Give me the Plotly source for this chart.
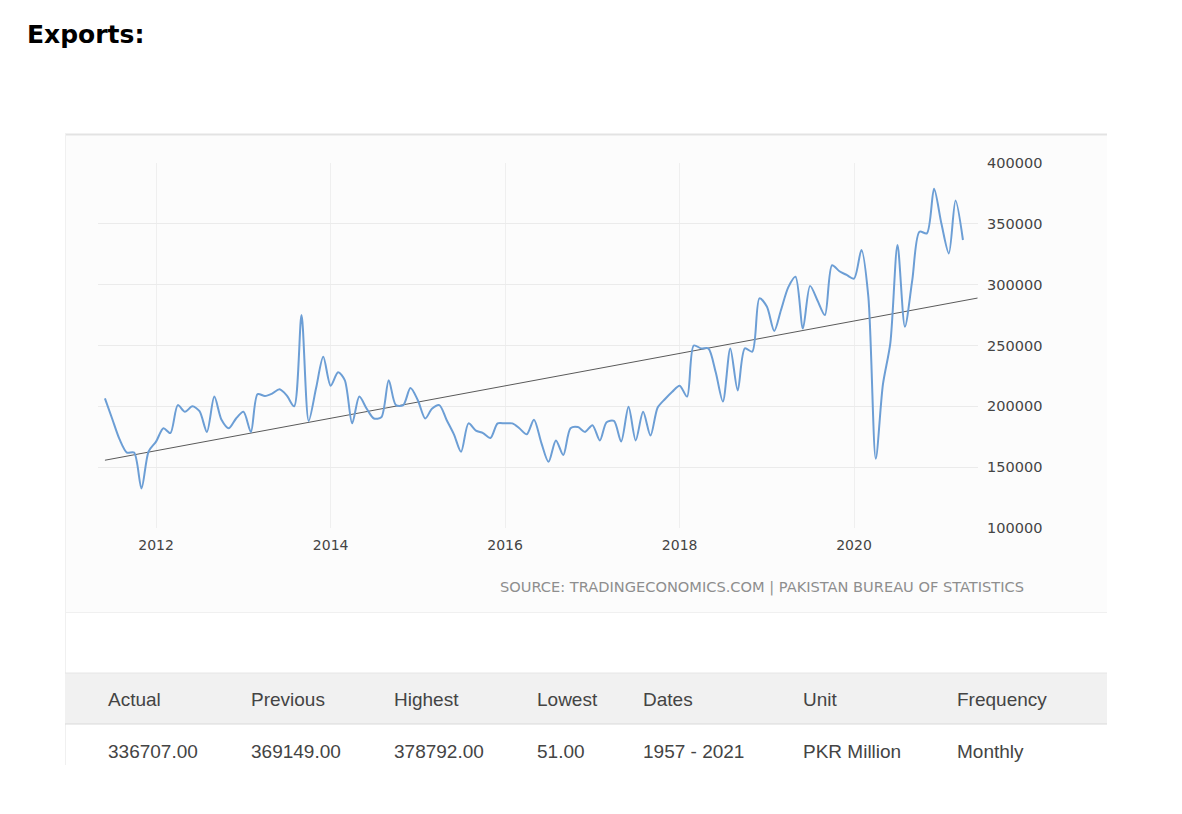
import pandas as pd
import plotly.graph_objects as go

# ---------------- data ----------------
start_month = "2011-06-01"
exports = [
    206500, 190000, 173000, 162000, 162000, 132500, 163000,            # Jun-Dec 2011
    171000, 182000, 178000, 201000, 195500, 200000, 196000, 179000, 208000, 189000, 182000, 190000,  # 2012
    195500, 179000, 210000, 208500, 210500, 214000, 209000, 200000, 275000, 188000, 215000, 240700,  # 2013
    217000, 228000, 221500, 186000, 208000, 198000, 190000, 191000, 221500, 201000, 201000, 215000,  # 2014
    205000, 190000, 198000, 201000, 189000, 177000, 162600, 186000, 180000, 178000, 174000, 186000,  # 2015
    186000, 186000, 182000, 177000, 189000, 170000, 154400, 172000, 160000, 182000, 183000, 179000,  # 2016
    184500, 172000, 187000, 188000, 171000, 199600, 172000, 195500, 176000, 199000, 206000, 212000,  # 2017
    217000, 208000, 250000, 247600, 247600, 228000, 204000, 247600, 213000, 247600, 245000, 288700,  # 2018
    282000, 262000, 279000, 298000, 306500, 264000, 299000, 287000, 275000, 316000, 311000, 308000,  # 2019
    305000, 328500, 290000, 157000, 218000, 252000, 332600, 265400, 304000, 343500, 342200, 378792,  # 2020
    350000, 325700, 369149, 336707,                                     # Jan-Apr 2021
]
trend_dates = ["2011-06-01", "2021-06-01"]
trend_values = [155700, 289000]

y_ticks = [100000, 150000, 200000, 250000, 300000, 350000, 400000]

table_headers = ["Actual", "Previous", "Highest", "Lowest", "Dates", "Unit", "Frequency"]
table_values = ["336707.00", "369149.00", "378792.00", "51.00", "1957 - 2021", "PKR Million", "Monthly"]

source_text = "SOURCE: TRADINGECONOMICS.COM | PAKISTAN BUREAU OF STATISTICS"
title_text = "Exports:"

dates = pd.date_range(start_month, periods=len(exports), freq="MS")

# ---------------- layout geometry ----------------
W, H = 1182, 814
L, R, T, B = 98, 978, 163, 528  # plot area pixel box
PW, PH = R - L, B - T


def px(x):
    return (x - L) / PW


def py(y):
    return (B - y) / PH


fig = go.Figure()
fig.add_trace(go.Scatter(
    x=trend_dates, y=trend_values, mode="lines",
    line=dict(color="#5a5a5a", width=1), hoverinfo="skip", showlegend=False,
))
fig.add_trace(go.Scatter(
    x=dates, y=exports, mode="lines",
    line=dict(color="#6c9ed5", width=2, shape="spline", smoothing=0.8),
    showlegend=False,
))

shapes = [
    dict(type="rect", xref="paper", yref="paper", x0=px(65), x1=px(1107), y0=py(134), y1=py(612),
         fillcolor="#fcfcfc", line=dict(width=0), layer="below"),
    dict(type="line", xref="paper", yref="paper", x0=px(65), x1=px(1107), y0=py(134.5), y1=py(134.5),
         line=dict(color="#e3e3e3", width=2), layer="below"),
    dict(type="line", xref="paper", yref="paper", x0=px(65.5), x1=px(65.5), y0=py(134), y1=py(765),
         line=dict(color="#f0f0f0", width=1), layer="below"),
    dict(type="line", xref="paper", yref="paper", x0=px(65), x1=px(1107), y0=py(612.5), y1=py(612.5),
         line=dict(color="#f0f0f0", width=1), layer="below"),
    dict(type="rect", xref="paper", yref="paper", x0=px(65), x1=px(1107), y0=py(673), y1=py(724),
         fillcolor="#f1f1f1", line=dict(width=0), layer="below"),
    dict(type="line", xref="paper", yref="paper", x0=px(65), x1=px(1107), y0=py(673), y1=py(673),
         line=dict(color="#e6e6e6", width=1), layer="below"),
    dict(type="line", xref="paper", yref="paper", x0=px(65), x1=px(1107), y0=py(724), y1=py(724),
         line=dict(color="#d9d9d9", width=1), layer="below"),
]

col_x = [106, 249, 392, 535, 641, 801, 955]
annotations = [
    dict(text=title_text, xref="paper", yref="paper", x=px(25), y=py(34), xanchor="left", yanchor="middle",
         showarrow=False, font=dict(family="DejaVu Sans", size=25, color="#000000", weight="bold")),
    dict(text=source_text, xref="paper", yref="paper", x=px(1026), y=py(587), xanchor="right", yanchor="middle",
         showarrow=False, font=dict(family="DejaVu Sans", size=14.6, color="#8e8e8e")),
]
for cx, h, v in zip(col_x, table_headers, table_values):
    annotations.append(dict(text=h, xref="paper", yref="paper", x=px(cx), y=py(699), xanchor="left",
                            yanchor="middle", showarrow=False,
                            font=dict(family="Liberation Sans, Arial", size=19, color="#444444")))
    annotations.append(dict(text=v, xref="paper", yref="paper", x=px(cx), y=py(751), xanchor="left",
                            yanchor="middle", showarrow=False,
                            font=dict(family="Liberation Sans, Arial", size=19, color="#444444")))

fig.update_layout(
    width=W, height=H, autosize=False,
    margin=dict(l=L, r=W - R, t=T, b=H - B, pad=0),
    paper_bgcolor="#ffffff", plot_bgcolor="rgba(0,0,0,0)",
    shapes=shapes, annotations=annotations,
    xaxis=dict(
        type="date", range=["2011-05-03", "2021-06-03"],
        tick0="2012-01-01", dtick="M24", tickformat="%Y",
        showgrid=True, gridcolor="#efefef", gridwidth=1,
        zeroline=False, showline=False, ticks="",
        tickfont=dict(family="DejaVu Sans", size=14, color="#444444"),
        ticklabelstandoff=7, fixedrange=True,
    ),
    yaxis=dict(
        side="right", range=[100000, 400000], tickvals=y_ticks, tickformat="d",
        showgrid=True, gridcolor="#ebebeb", gridwidth=1,
        zeroline=False, showline=False, ticks="",
        tickfont=dict(family="DejaVu Sans", size=14.5, color="#444444"),
        ticklabelstandoff=8, fixedrange=True,
    ),
    hovermode=False,
)

fig.write_html("out.html")
